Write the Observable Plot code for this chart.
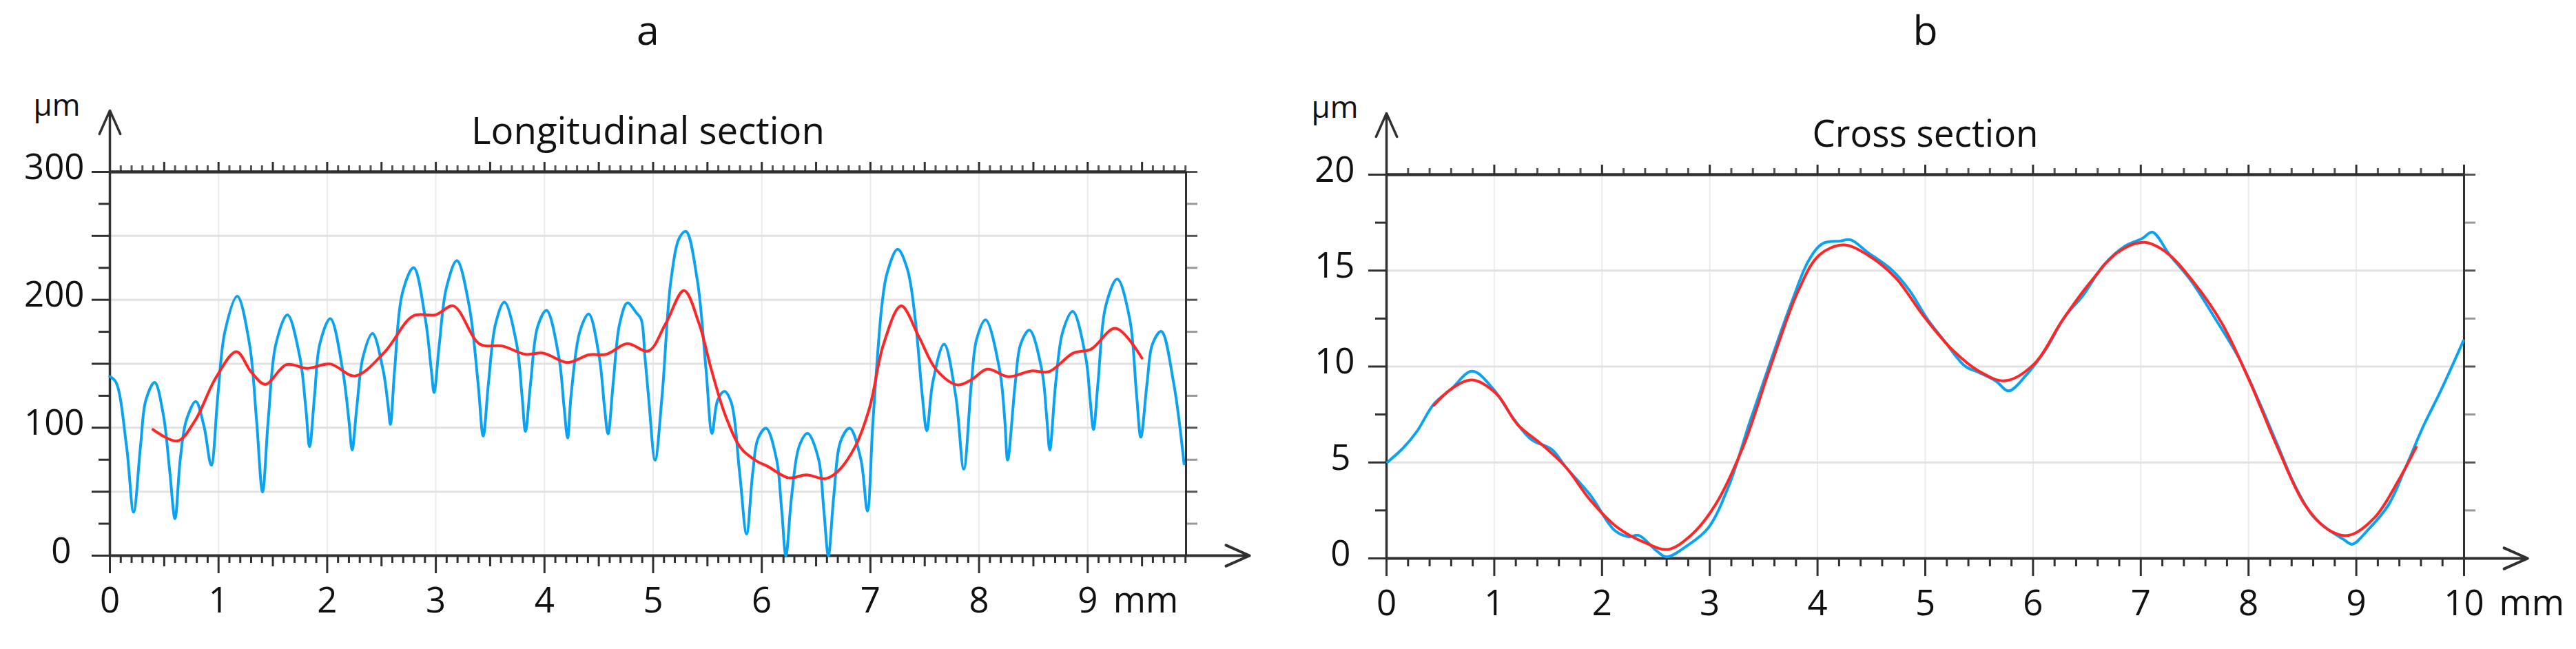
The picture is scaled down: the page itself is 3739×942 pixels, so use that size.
<!DOCTYPE html>
<html><head><meta charset="utf-8">
<script src="https://cdn.jsdelivr.net/npm/d3@7"></script>
<script src="https://cdn.jsdelivr.net/npm/@observablehq/plot@0.6"></script>
<style>
body{margin:0;background:#fff;}
#wrap{display:flex;width:3739px;height:942px;background:#fff;}
#wrap svg{display:block;flex:none;}
</style></head><body><div id="wrap"></div>
<script>
// ---------- Panel a: Longitudinal section (mm, µm) ----------
const aBlueX = [0.00,0.056,0.153,0.218,0.282,0.331,0.412,0.493,0.551,0.599,0.648,0.703,0.79,0.865,0.933,0.994,1.059,1.172,1.285,1.35,1.405,1.457,1.528,1.634,1.748,1.803,1.838,1.884,1.932,2.029,2.142,2.2,2.23,2.272,2.33,2.417,2.514,2.563,2.582,2.621,2.692,2.796,2.903,2.958,2.984,3.032,3.097,3.194,3.307,3.388,3.436,3.485,3.55,3.631,3.744,3.793,3.825,3.873,3.938,4.019,4.132,4.181,4.213,4.245,4.326,4.407,4.504,4.553,4.585,4.633,4.692,4.763,4.844,4.889,4.925,4.96,5.018,5.083,5.164,5.245,5.303,5.407,5.487,5.542,5.594,5.656,5.72,5.795,5.86,5.918,5.966,6.04,6.135,6.183,6.222,6.274,6.345,6.422,6.522,6.571,6.613,6.662,6.727,6.81,6.911,6.972,7.024,7.105,7.154,7.25,7.34,7.412,7.477,7.519,7.574,7.678,7.784,7.859,7.93,7.978,8.06,8.189,8.237,8.263,8.334,8.383,8.464,8.577,8.625,8.651,8.706,8.771,8.862,8.981,9.023,9.053,9.095,9.166,9.272,9.386,9.45,9.489,9.547,9.596,9.677,9.79,9.887];
const aBlueY = [140,135.5,85.7,34,85.7,121.5,135.5,109.6,65.8,29,75.7,105.6,120.5,101.6,70.7,125.5,175.3,202.8,165.4,105.6,49.8,105.6,165.4,188.3,155.4,115.6,85.3,125.5,165.4,185.3,145.4,105.6,82.7,115.6,155.4,173.7,145.4,115.6,102.6,145.4,205.2,225.1,185.3,145.4,127.5,165.4,209.2,230.7,195.2,135.5,93.6,135.5,181.3,198.2,165.4,125.5,97.2,135.5,179.3,191.7,155.4,115.6,92,125.5,175.3,188.9,155.4,115.6,95.2,135.5,181.3,197.6,190,185,155,122,74.7,125.5,215.2,249,253.4,215.2,145.4,95.6,121.5,128.5,119.5,65.8,17,65.8,91.6,99.6,75.7,35.9,0,45.8,85.7,95.6,75.7,35.9,0,45.8,89.7,99.6,75.7,34.9,105.6,195.2,221,239.5,224,185.3,125.5,97.6,135.5,165.4,125.5,67.7,135.5,169.3,184.3,145.4,105.6,74.7,135.5,165.4,176.3,145.4,105.6,82.7,135.5,175.3,190.9,155.4,121.5,98.6,135.5,195.2,216.2,185.3,125.5,92.6,135.5,165.4,175.3,135.5,71.7];
const aRedX = [0.396,0.622,0.784,0.978,1.165,1.301,1.431,1.625,1.819,2.029,2.256,2.531,2.79,3.0,3.162,3.404,3.614,3.825,3.986,4.213,4.407,4.569,4.763,4.957,5.115,5.284,5.423,5.536,5.665,5.811,5.957,6.054,6.248,6.41,6.587,6.7,6.862,6.992,7.121,7.283,7.445,7.606,7.8,7.93,8.076,8.27,8.48,8.642,8.868,9.03,9.256,9.499];
const aRedY = [98.6,89.7,105.6,139.5,159.4,143.5,133.9,149.4,146.4,149.8,140.5,159.4,187.3,188.3,195.2,165.4,163.8,157.4,158.4,151,157,157.4,165.8,160,181.3,207.2,181.3,145.4,109.6,83.7,73.7,69.8,60.8,63.2,60.2,65.8,85.7,115.6,165.4,195.2,171.3,145.4,133.5,137.5,145.8,139.9,144.4,143.8,158.4,161.4,177.7,154.4];
const aXLabels = [0,1,2,3,4,5,6,7,8,9];
const aYLabels = [0,100,200,300];

// ---------- Panel b: Cross section (mm, µm) ----------
const bBlueX = [0.01,0.152,0.28,0.44,0.603,0.796,0.989,1.183,1.343,1.535,1.665,1.891,2.117,2.245,2.342,2.503,2.6,2.792,2.986,3.18,3.372,3.565,3.757,3.92,4.048,4.21,4.307,4.466,4.692,4.853,5.014,5.176,5.369,5.498,5.658,5.774,5.948,6.109,6.303,6.464,6.657,6.851,7.012,7.108,7.269,7.462,7.688,7.913,8.107,8.267,8.428,8.59,8.718,8.879,8.963,9.104,9.298,9.459,9.62,9.781,9.994];
const bBlueY = [5.02,5.74,6.6,8.05,8.84,9.76,8.84,7.25,6.2,5.67,4.75,3.3,1.46,1.13,1.2,0.41,0.08,0.67,1.59,3.83,7.12,10.28,13.31,15.55,16.41,16.54,16.6,15.95,15.02,13.97,12.52,11.34,10.02,9.69,9.23,8.73,9.63,10.81,12.65,13.71,15.29,16.27,16.67,17.0,15.81,14.5,12.52,10.42,8.05,5.94,3.83,2.25,1.59,1.0,0.74,1.46,2.78,4.75,6.86,8.7,11.34];
const bRedX = [0.44,0.603,0.796,1.021,1.214,1.44,1.665,1.891,2.148,2.406,2.612,2.825,3.05,3.308,3.565,3.823,4.016,4.242,4.466,4.724,4.982,5.24,5.498,5.743,6.013,6.27,6.528,6.786,7.031,7.237,7.494,7.752,8.01,8.267,8.525,8.75,8.93,9.169,9.394,9.556];
const bRedY = [7.98,8.84,9.3,8.57,6.99,5.94,4.75,3.04,1.59,0.8,0.47,1.2,2.78,5.8,10.02,13.97,15.81,16.34,15.81,14.63,12.65,10.94,9.76,9.26,10.15,12.39,14.37,15.95,16.47,15.95,14.37,12.26,9.23,5.81,2.78,1.46,1.2,2.12,4.09,5.8];
const bXLabels = [0,1,2,3,4,5,6,7,8,9,10];
const bYLabels = [0,5,10,15,20];

const BLUE = "#0aa2f2", RED = "#ff2626", INK = "#303030";
const near = (v, s) => Math.abs(v / s - Math.round(v / s)) < 1e-6;
const fmt = d => String(d);

function panel(c) {
  const blue = c.blueX.map((x, i) => ({x, y: c.blueY[i]}));
  const red = c.redX.map((x, i) => ({x, y: c.redY[i]}));
  const nx = Math.round(c.xMax / c.xStep + 1e-6);
  const xt = d3.range(0, nx + 1).map(i => +(i * c.xStep).toFixed(4));
  const ny = Math.round(c.yMax / c.yStep);
  const yt = d3.range(0, ny + 1).map(i => +(i * c.yStep).toFixed(4));
  const xMaj = xt.filter(v => near(v, 1));
  const xMid = xt.filter(v => !near(v, 1) && near(v, c.xMid));
  const xMin = xt.filter(v => !near(v, c.xMid) && !near(v, 1));
  const yMaj = yt.filter(v => near(v, c.yMajor));
  const yMin = yt.filter(v => !near(v, c.yMajor));
  const gridY = yt.filter(v => v > 0 && v < c.yMax && near(v, c.yMajor));
  const gridX = d3.range(1, Math.ceil(c.xMax)).filter(v => v < c.xMax - 1e-6);
  const lastLab = c.xLabels[c.xLabels.length - 1];
  const multi = c.yLabels.filter(v => String(v).length > 1);
  const single = c.yLabels.filter(v => String(v).length === 1);
  const tickOpts = {fill: "none", stroke: INK, strokeWidth: 3, label: null};
  const svg = Plot.plot({
    width: c.width, height: 942,
    marginLeft: c.mL, marginRight: c.width - c.mL - c.plotW, marginTop: c.mT, marginBottom: 942 - c.mT - c.plotH,
    x: {domain: [0, c.xMax]},
    y: {domain: [0, c.yMax]},
    style: {fontFamily: "'Open Sans', sans-serif", overflow: "visible", background: "white", color: "#111"},
    marks: [
      Plot.ruleX(gridX, {stroke: "#ebebeb", strokeWidth: 2}),
      Plot.ruleY(gridY, {stroke: "#e2e2e2", strokeWidth: 3}),
      // ticks
      Plot.axisX(xMin, {...tickOpts, anchor: "bottom", tickSize: c.xMinLen}),
      Plot.axisX(xMid, {...tickOpts, anchor: "bottom", tickSize: 16}),
      Plot.axisX(xMaj, {...tickOpts, anchor: "bottom", tickSize: 26}),
      Plot.axisX(xt.filter(v => !near(v, c.xMid) && !near(v, 1)), {...tickOpts, anchor: "top", tickSize: 10, stroke: "#555"}),
      Plot.axisX(xt.filter(v => near(v, c.xMid) || near(v, 1)), {...tickOpts, anchor: "top", tickSize: 15}),
      Plot.axisY(yMin, {...tickOpts, anchor: "left", tickSize: 16}),
      Plot.axisY(yMaj, {...tickOpts, anchor: "left", tickSize: 26}),
      Plot.axisY(yMin, {...tickOpts, anchor: "right", tickSize: 16, stroke: "#999"}),
      Plot.axisY(yMaj, {...tickOpts, anchor: "right", tickSize: 16, stroke: "#555"}),
      // labels
      Plot.axisX(c.xLabels, {anchor: "bottom", tickSize: 0, tickPadding: 46, fontSize: 51, label: null, tickFormat: fmt}),
      Plot.axisY(multi, {anchor: "left", tickSize: 0, tickPadding: c.yPad, fontSize: 51, dy: -6, label: null, tickFormat: fmt}),
      Plot.axisY(single, {anchor: "left", tickSize: 0, tickPadding: c.yPad1, fontSize: 51, dy: -6, label: null, tickFormat: fmt}),
      Plot.text(["mm"], {x: lastLab, y: 0, dx: c.unitDx, dy: 46, text: d => d, textAnchor: "start", lineAnchor: "top", fontSize: 51, fill: "#111"}),
      // frame
      Plot.ruleX([c.xMax], {stroke: INK, strokeWidth: 3}),
      Plot.ruleY([c.yMax], {stroke: INK, strokeWidth: 4.5}),
      Plot.arrow([0], {x1: 0, y1: 0, x2: 0, y2: c.yMax * 1.16, stroke: INK, strokeWidth: 3.5, headAngle: 48, headLength: 16}),
      Plot.arrow([0], {x1: 0, y1: 0, x2: c.xMax * 1.059, y2: 0, stroke: INK, strokeWidth: 4, headAngle: 48, headLength: 14}),
      // data
      Plot.line(blue, {x: "x", y: "y", stroke: BLUE, strokeWidth: 4, curve: "catmull-rom"}),
      Plot.line(red, {x: "x", y: "y", stroke: RED, strokeWidth: 4, curve: "catmull-rom"}),
      // texts
      Plot.text(["µm"], {x: 0, frameAnchor: "top", dx: c.umDx, dy: c.umDy, text: d => d, textAnchor: "middle", lineAnchor: "bottom", fontSize: 44, fill: "#111"}),
      Plot.text([c.title], {frameAnchor: "top", dy: -41, text: d => d, lineAnchor: "bottom", fontSize: 55, fill: "#111", className: "ttl"}),
      Plot.text([c.letter], {frameAnchor: "top", dy: 64 - c.mT, text: d => d, lineAnchor: "bottom", fontSize: 59, fill: "#111"})
    ]
  });
  svg.querySelectorAll(".ttl text").forEach(t => {
    t.setAttribute("textLength", c.titleW);
    t.setAttribute("lengthAdjust", "spacingAndGlyphs");
  });
  return svg;
}

const wrap = document.getElementById("wrap");
wrap.append(panel({
  width: 1870, mL: 159, plotW: 1562, mT: 249, plotH: 557,
  xMax: 9.905, yMax: 300, xStep: 0.1, xMid: 0.5, xMinLen: 11, yStep: 25, yMajor: 50,
  blueX: aBlueX, blueY: aBlueY, redX: aRedX, redY: aRedY,
  xLabels: aXLabels, yLabels: aYLabels, yPad: 37, yPad1: 56, unitDx: 37,
  umDx: -77, umDy: -82, title: "Longitudinal section", titleW: 513, letter: "a"
}));
wrap.append(panel({
  width: 1869, mL: 142, plotW: 1564, mT: 253, plotH: 557,
  xMax: 10, yMax: 20, xStep: 0.2, xMid: 1, xMinLen: 12, yStep: 2.5, yMajor: 5,
  blueX: bBlueX, blueY: bBlueY, redX: bRedX, redY: bRedY,
  xLabels: bXLabels, yLabels: bYLabels, yPad: 46, yPad1: 52, unitDx: 51,
  umDx: -75, umDy: -83, title: "Cross section", titleW: 328, letter: "b"
}));
</script>
</body></html>
